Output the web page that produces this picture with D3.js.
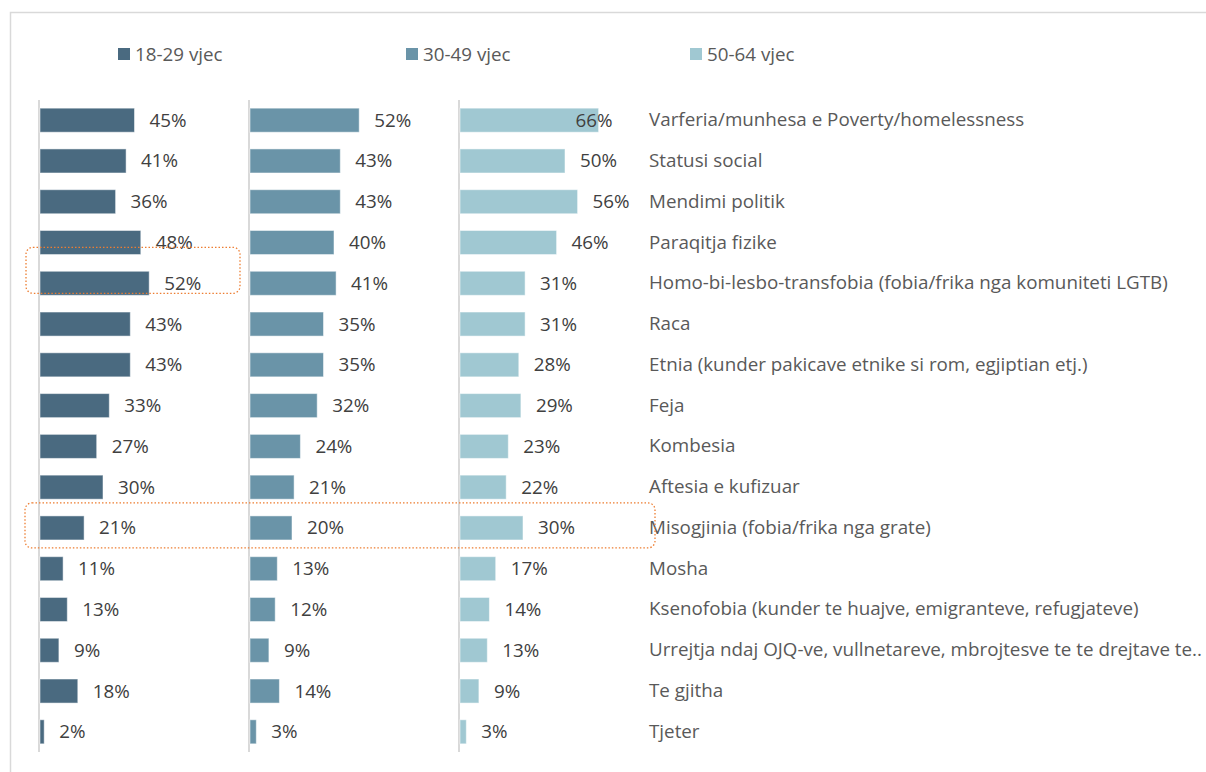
<!DOCTYPE html>
<html>
<head>
<meta charset="utf-8">
<script src="https://cdn.jsdelivr.net/npm/d3@7"></script>
<style>
  body { margin: 0; background: #fff; }
  text { font-family: "Open Sans", "Liberation Sans", Arial, sans-serif; }
</style>
</head>
<body>
<div id="chart"></div>
<script>
// Data
const categories = [
  "Varferia/munhesa e Poverty/homelessness",
  "Statusi social",
  "Mendimi politik",
  "Paraqitja fizike",
  "Homo-bi-lesbo-transfobia (fobia/frika nga komuniteti LGTB)",
  "Raca",
  "Etnia (kunder pakicave etnike si rom, egjiptian etj.)",
  "Feja",
  "Kombesia",
  "Aftesia e kufizuar",
  "Misogjinia (fobia/frika nga grate)",
  "Mosha",
  "Ksenofobia (kunder te huajve, emigranteve, refugjateve)",
  "Urrejtja ndaj OJQ-ve, vullnetareve, mbrojtesve te te drejtave te..",
  "Te gjitha",
  "Tjeter",
];
const seriesNames = ["18-29 vjec", "30-49 vjec", "50-64 vjec"];
const age18_29 = [45, 41, 36, 48, 52, 43, 43, 33, 27, 30, 21, 11, 13, 9, 18, 2];
const age30_49 = [52, 43, 43, 40, 41, 35, 35, 32, 24, 21, 20, 13, 12, 9, 14, 3];
const age50_64 = [66, 50, 56, 46, 31, 31, 28, 29, 23, 22, 30, 17, 14, 13, 9, 3];
const series = [age18_29, age30_49, age50_64];
// highlighted rows (orange dotted boxes)
const highlightRows = ["Homo-bi-lesbo-transfobia (fobia/frika nga komuniteti LGTB)", "Misogjinia (fobia/frika nga grate)"];

const dimensions = {
  width: 1206,
  height: 772,
  panelX: [40, 250, 460],
  panelWidth: 210,
  top: 100,
  bottom: 752,
  labelX: 649,
};
const colors = ["#4a6a80", "#6a94a8", "#a0c8d2"];

const svg = d3
  .select("#chart")
  .append("svg")
  .attr("width", dimensions.width)
  .attr("height", dimensions.height);

// frame
svg
  .append("rect")
  .attr("x", 10.5)
  .attr("y", 12.5)
  .attr("width", 1400)
  .attr("height", 1000)
  .attr("fill", "none")
  .attr("stroke", "#d9d9d9")
  .attr("stroke-width", 1.5);

const xScale = d3.scaleLinear().domain([0, 100]).range([0, dimensions.panelWidth]);
const yScale = d3
  .scaleBand()
  .domain(categories)
  .range([dimensions.top, dimensions.bottom])
  .paddingInner(0.41)
  .paddingOuter(0.2);
const bh = yScale.bandwidth();
const cy = (c) => yScale(c) + bh / 2;

// legend
const legendX = [118, 406, 690];
const legend = svg
  .append("g")
  .selectAll("g")
  .data(seriesNames)
  .join("g")
  .attr("transform", (d, i) => `translate(${legendX[i]}, 54)`);
legend
  .append("rect")
  .attr("x", 0)
  .attr("y", -6)
  .attr("width", 12)
  .attr("height", 12)
  .attr("fill", (d, i) => colors[i]);
legend
  .append("text")
  .attr("x", 17)
  .attr("y", 6.5)
  .attr("font-size", 18.8)
  .attr("fill", "#595959")
  .text((d) => d);

// panels
series.forEach((values, si) => {
  const px = dimensions.panelX[si];
  const g = svg.append("g").attr("transform", `translate(${px}, 0)`);

  g.append("line")
    .attr("x1", -1)
    .attr("x2", -1)
    .attr("y1", dimensions.top)
    .attr("y2", dimensions.bottom)
    .attr("stroke", "#d9d9d9")
    .attr("stroke-width", 2);

  g.selectAll("rect")
    .data(values)
    .join("rect")
    .attr("x", 0)
    .attr("y", (d, i) => yScale(categories[i]))
    .attr("width", (d) => xScale(d))
    .attr("height", bh)
    .attr("fill", colors[si])
    .attr("stroke", "#ffffff")
    .attr("stroke-opacity", 0.5)
    .attr("stroke-width", 1);

  g.selectAll("text.val")
    .data(values)
    .join("text")
    .classed("val", true)
    // label goes outside the bar, unless it would run into the category text
    .attr("x", (d) => {
      const outside = xScale(d) + 15;
      return px + outside + 37 > dimensions.labelX - 10 ? xScale(d) - 23 : outside;
    })
    .attr("y", (d, i) => cy(categories[i]) + 6.5)
    .attr("font-size", 18.8)
    .attr("fill", "#404040")
    .text((d) => d + "%");
});

// category labels
svg
  .append("g")
  .selectAll("text")
  .data(categories)
  .join("text")
  .attr("x", dimensions.labelX)
  .attr("y", (d) => cy(d) + 6)
  .attr("font-size", 18.8)
  .attr("fill", "#595959")
  .text((d) => d);

// highlight boxes
const boxes = [
  { row: highlightRows[0], x0: dimensions.panelX[0] - 14, x1: dimensions.panelX[1] - 10, top: -36, bottom: 10 },
  { row: highlightRows[1], x0: dimensions.panelX[0] - 15, x1: dimensions.panelX[2] + 195, top: -25, bottom: 20 },
];
svg
  .append("g")
  .selectAll("rect")
  .data(boxes)
  .join("rect")
  .attr("x", (d) => d.x0)
  .attr("y", (d) => cy(d.row) + d.top)
  .attr("width", (d) => d.x1 - d.x0)
  .attr("height", (d) => d.bottom - d.top)
  .attr("rx", 7)
  .attr("fill", "none")
  .attr("stroke", "#ed7d31")
  .attr("stroke-width", 1.3)
  .attr("stroke-dasharray", "1.5 2");
</script>
</body>
</html>
